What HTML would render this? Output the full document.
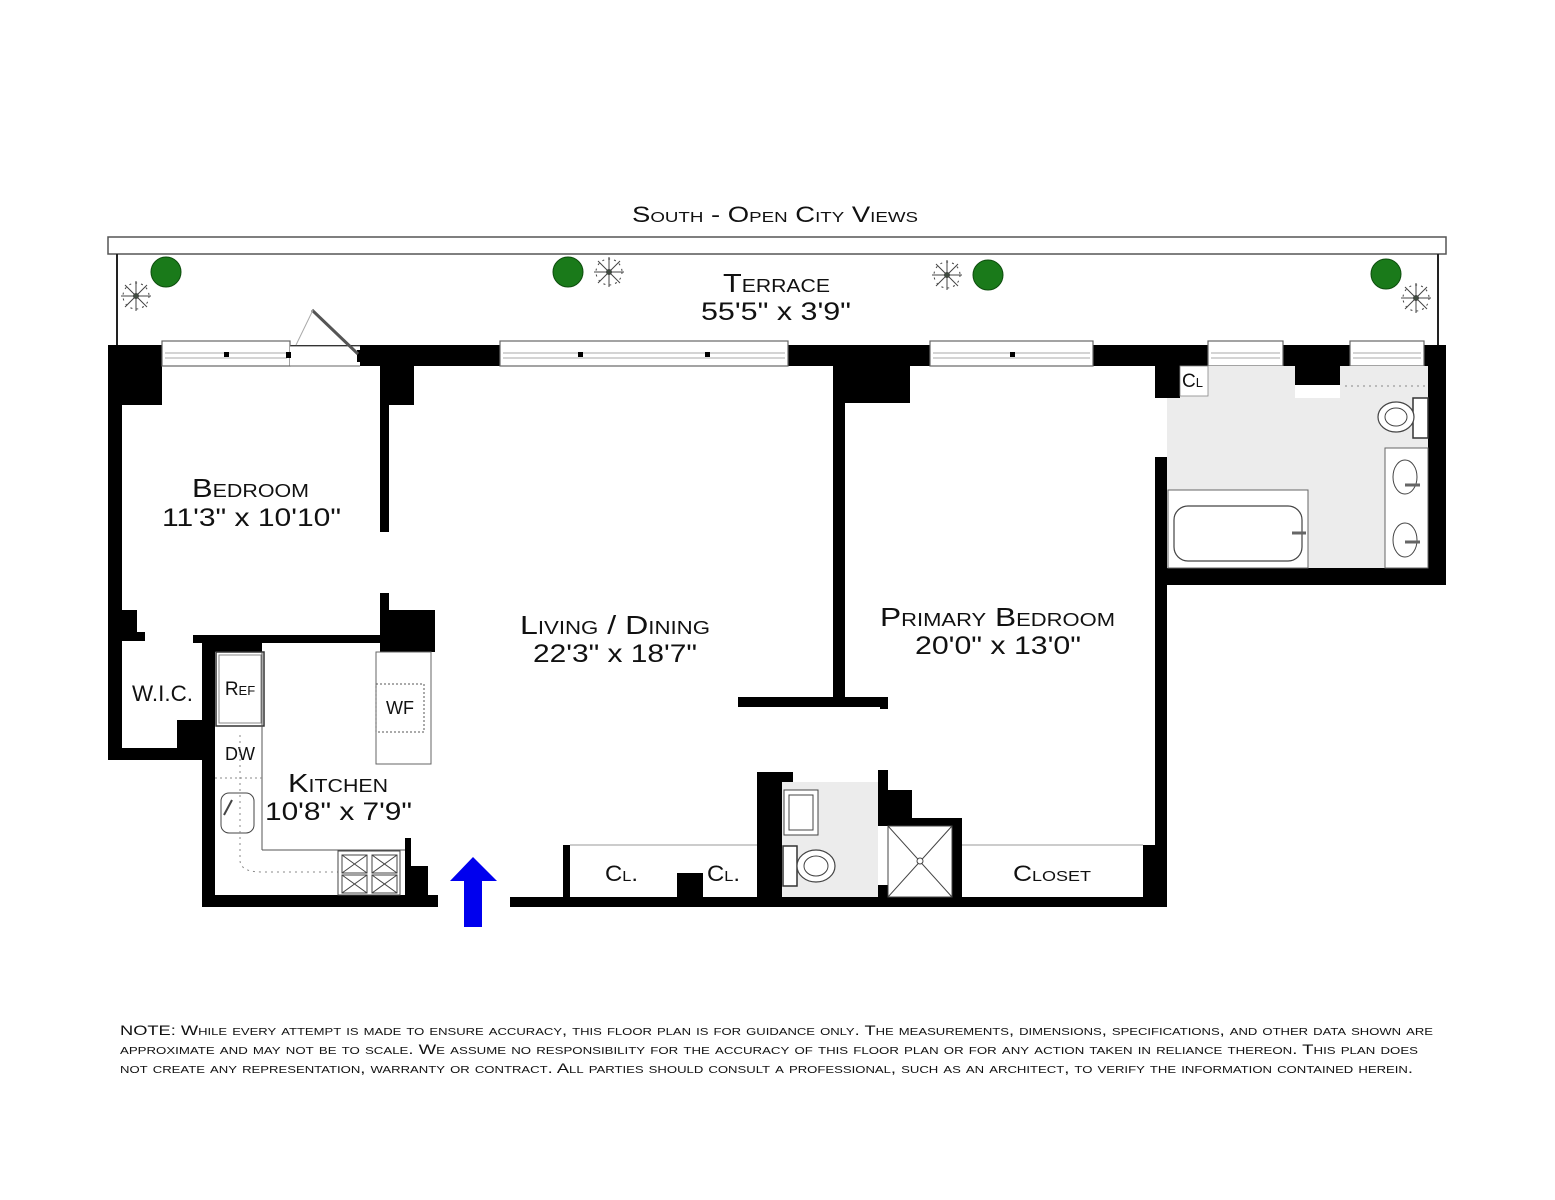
<!DOCTYPE html>
<html><head><meta charset="utf-8">
<style>
html,body{margin:0;padding:0;background:#fff;}
svg{display:block;}
text{font-family:"Liberation Sans",sans-serif;fill:#111;}
.sc{font-variant:small-caps;}
</style></head>
<body>
<svg width="1555" height="1200" viewBox="0 0 1555 1200" xmlns="http://www.w3.org/2000/svg">
<rect width="1555" height="1200" fill="#fff"/>

<text x="632" y="222" font-size="22" class="sc" textLength="286" lengthAdjust="spacingAndGlyphs">South  -  Open City Views</text>

<!-- terrace -->
<rect x="108" y="237" width="1338" height="17" fill="#fff" stroke="#555" stroke-width="1.5"/>
<line x1="117" y1="254" x2="117" y2="345" stroke="#222" stroke-width="2"/>
<line x1="1438" y1="254" x2="1438" y2="345" stroke="#222" stroke-width="2"/>
<text x="723" y="292" font-size="26" class="sc" textLength="107" lengthAdjust="spacingAndGlyphs">Terrace</text>
<text x="701" y="320" font-size="25" textLength="150" lengthAdjust="spacingAndGlyphs">55'5"  x  3'9"</text>

<!-- plants -->
<g fill="#1a7a1a" stroke="#0d4d0d" stroke-width="1">
<circle cx="166" cy="272" r="15"/><circle cx="568" cy="272" r="15"/>
<circle cx="988" cy="275" r="15"/><circle cx="1386" cy="274" r="15"/>
</g>
<g stroke="#444" stroke-width="1" fill="none">
<g transform="translate(136,296)"><circle r="2.5" fill="#1a7a1a"/><path d="M-15 0H15M0-15V15M-11-11L11 11M-11 11L11-11"/><circle r="13" stroke-dasharray="2 4"/></g>
<g transform="translate(609,272)"><circle r="2.5" fill="#1a7a1a"/><path d="M-15 0H15M0-15V15M-11-11L11 11M-11 11L11-11"/><circle r="13" stroke-dasharray="2 4"/></g>
<g transform="translate(947,275)"><circle r="2.5" fill="#1a7a1a"/><path d="M-15 0H15M0-15V15M-11-11L11 11M-11 11L11-11"/><circle r="13" stroke-dasharray="2 4"/></g>
<g transform="translate(1416,298)"><circle r="2.5" fill="#1a7a1a"/><path d="M-15 0H15M0-15V15M-11-11L11 11M-11 11L11-11"/><circle r="13" stroke-dasharray="2 4"/></g>
</g>

<g fill="#000">
<rect x="108" y="345" width="1338" height="21"/>
<rect x="108" y="345" width="14" height="415"/>
<rect x="108" y="345" width="54" height="60"/>
<rect x="383" y="345" width="31" height="60"/>
<rect x="380" y="366" width="9" height="166"/>
<rect x="380" y="593" width="9" height="50"/>
<rect x="380" y="610" width="55" height="42"/>
<rect x="108" y="610" width="29" height="30"/>
<rect x="108" y="632" width="37" height="9"/>
<rect x="193" y="635" width="242" height="8"/>
<rect x="108" y="748" width="107" height="12"/>
<rect x="177" y="720" width="38" height="40"/>
<rect x="202" y="635" width="13" height="272"/>
<rect x="202" y="643" width="60" height="9"/>
<rect x="202" y="895" width="236" height="12"/>
<rect x="405" y="838" width="6" height="60"/>
<rect x="405" y="866" width="23" height="32"/>
<rect x="510" y="897" width="657" height="10"/>
<rect x="833" y="366" width="12" height="334"/>
<rect x="833" y="366" width="77" height="37"/>
<rect x="738" y="697" width="150" height="10"/>
<rect x="880" y="697" width="8" height="12"/>
<rect x="1155" y="366" width="25" height="32"/>
<rect x="1155" y="457" width="12" height="450"/>
<rect x="1143" y="845" width="24" height="60"/>
<rect x="1167" y="568" width="279" height="17"/>
<rect x="1428" y="345" width="18" height="240"/>
<rect x="1295" y="366" width="45" height="19"/>
<rect x="1306" y="497" width="10" height="71"/>
<rect x="757" y="772" width="25" height="135"/>
<rect x="757" y="772" width="36" height="10"/>
<rect x="878" y="770" width="10" height="20"/>
<rect x="878" y="790" width="34" height="36"/>
<rect x="878" y="818" width="84" height="8"/>
<rect x="952" y="818" width="10" height="89"/>
<rect x="878" y="885" width="10" height="20"/>
<rect x="563" y="845" width="7" height="55"/>
<rect x="677" y="873" width="26" height="27"/>
</g>

<!-- windows -->
<g fill="#fff" stroke="#666" stroke-width="1.2">
<rect x="162" y="341" width="128" height="25"/>
<rect x="500" y="341" width="288" height="25"/>
<rect x="930" y="341" width="163" height="25"/>
<rect x="1208" y="341" width="75" height="25"/>
<rect x="1350" y="341" width="74" height="25"/>
</g>
<rect x="290" y="346" width="70" height="20" fill="#fff"/>
<line x1="290" y1="346" x2="360" y2="346" stroke="#666"/>
<line x1="290" y1="366" x2="360" y2="366" stroke="#666"/>
<g stroke="#aaa" stroke-width="1">
<line x1="165" y1="353" x2="287" y2="353"/><line x1="165" y1="358" x2="287" y2="358"/>
<line x1="503" y1="353" x2="785" y2="353"/><line x1="503" y1="358" x2="785" y2="358"/>
<line x1="933" y1="353" x2="1090" y2="353"/><line x1="933" y1="358" x2="1090" y2="358"/>
<line x1="1211" y1="353" x2="1280" y2="353"/><line x1="1211" y1="358" x2="1280" y2="358"/>
<line x1="1353" y1="353" x2="1421" y2="353"/><line x1="1353" y1="358" x2="1421" y2="358"/>
</g>
<g fill="#000"><rect x="224" y="352" width="5" height="5"/><rect x="286" y="352" width="5" height="6"/><rect x="578" y="352" width="5" height="5"/><rect x="705" y="352" width="5" height="5"/><rect x="1010" y="352" width="5" height="5"/><rect x="357" y="350" width="4" height="12"/></g>
<line x1="312" y1="310" x2="358" y2="354" stroke="#555" stroke-width="3"/>
<line x1="313" y1="310" x2="296" y2="345" stroke="#aaa" stroke-width="1"/>

<!-- bath fill -->
<rect x="1167" y="398" width="261" height="170" fill="#ececec"/>
<rect x="1180" y="366" width="115" height="32" fill="#ececec"/>
<rect x="1340" y="366" width="88" height="32" fill="#ececec"/>
<rect x="1180" y="366" width="28" height="30" fill="#fff" stroke="#888" stroke-width="0.8"/>
<text x="1182" y="387" font-size="19" class="sc">Cl</text>
<line x1="1345" y1="386" x2="1426" y2="386" stroke="#888" stroke-dasharray="2 4"/>
<rect x="1168" y="490" width="140" height="78" fill="#fff" stroke="#666"/>
<rect x="1174" y="506" width="128" height="55" rx="14" fill="#fff" stroke="#444" stroke-width="1.2"/>
<line x1="1292" y1="533" x2="1306" y2="533" stroke="#666" stroke-width="3"/>
<rect x="1413" y="398" width="15" height="40" fill="#fff" stroke="#333" stroke-width="1.5"/>
<ellipse cx="1396" cy="417" rx="18" ry="15" fill="#fff" stroke="#444" stroke-width="1.2"/>
<ellipse cx="1396" cy="417" rx="11" ry="9" fill="none" stroke="#444"/>
<rect x="1385" y="448" width="43" height="120" fill="#fff" stroke="#666"/>
<ellipse cx="1405" cy="477" rx="12" ry="17" fill="#fff" stroke="#444"/>
<ellipse cx="1405" cy="540" rx="12" ry="17" fill="#fff" stroke="#444"/>
<line x1="1405" y1="485" x2="1420" y2="485" stroke="#666" stroke-width="3"/>
<line x1="1405" y1="542" x2="1420" y2="542" stroke="#666" stroke-width="3"/>

<!-- powder room -->
<rect x="782" y="782" width="96" height="115" fill="#ececec"/>
<rect x="784" y="790" width="34" height="45" fill="#fff" stroke="#444"/>
<rect x="789" y="795" width="24" height="35" fill="none" stroke="#444"/>
<rect x="783" y="846" width="14" height="40" fill="#fff" stroke="#333" stroke-width="1.5"/>
<ellipse cx="816" cy="866" rx="19" ry="16" fill="#fff" stroke="#444" stroke-width="1.2"/>
<ellipse cx="816" cy="866" rx="12" ry="10" fill="none" stroke="#444"/>
<rect x="888" y="826" width="64" height="71" fill="#fff" stroke="#444"/>
<path d="M888 826L952 897M952 826L888 897" stroke="#444"/>
<circle cx="920" cy="861" r="3" fill="#fff" stroke="#444"/>

<!-- closets -->
<line x1="570" y1="845" x2="757" y2="845" stroke="#ccc" stroke-width="2"/>
<line x1="962" y1="845" x2="1143" y2="845" stroke="#ccc" stroke-width="2"/>
<text x="605" y="881" font-size="22" class="sc" textLength="33" lengthAdjust="spacingAndGlyphs">Cl.</text>
<text x="707" y="881" font-size="22" class="sc" textLength="33" lengthAdjust="spacingAndGlyphs">Cl.</text>
<text x="1013" y="881" font-size="22" class="sc" textLength="78" lengthAdjust="spacingAndGlyphs">Closet</text>

<!-- kitchen fixtures -->
<rect x="216" y="652" width="48" height="74" fill="#fff" stroke="#333" stroke-width="1.5"/>
<rect x="219" y="655" width="42" height="68" fill="none" stroke="#888"/>
<text x="240" y="695" text-anchor="middle" font-size="19" class="sc">Ref</text>
<rect x="376" y="652" width="55" height="112" fill="#fff" stroke="#666"/>
<rect x="376" y="684" width="48" height="48" fill="none" stroke="#555" stroke-dasharray="2 2"/>
<text x="400" y="714" text-anchor="middle" font-size="18">WF</text>
<line x1="262" y1="652" x2="262" y2="850" stroke="#555"/>
<line x1="262" y1="850" x2="405" y2="850" stroke="#555"/>
<line x1="215" y1="778" x2="262" y2="778" stroke="#888" stroke-dasharray="2 3"/>
<text x="240" y="760" text-anchor="middle" font-size="18">DW</text>
<rect x="221" y="793" width="33" height="40" rx="8" fill="#fff" stroke="#444"/>
<line x1="224" y1="815" x2="232" y2="800" stroke="#444" stroke-width="2"/>
<path d="M240 735V860Q240 872 262 872H340" fill="none" stroke="#888" stroke-dasharray="2 4"/>
<rect x="338" y="851" width="62" height="44" fill="#fff" stroke="#444"/>
<g stroke="#444" fill="none"><rect x="342" y="855" width="25" height="18"/><rect x="372" y="855" width="25" height="18"/><rect x="342" y="875" width="25" height="18"/><rect x="372" y="875" width="25" height="18"/>
<path d="M342 855L367 873M367 855L342 873M372 855L397 873M397 855L372 873M342 875L367 893M367 875L342 893M372 875L397 893M397 875L372 893"/></g>

<!-- labels -->
<text x="192" y="497" font-size="26" class="sc" textLength="117" lengthAdjust="spacingAndGlyphs">Bedroom</text>
<text x="162" y="526" font-size="25" textLength="179" lengthAdjust="spacingAndGlyphs">11'3"  x  10'10"</text>
<text x="520" y="634" font-size="26" class="sc" textLength="190" lengthAdjust="spacingAndGlyphs">Living / Dining</text>
<text x="533" y="662" font-size="25" textLength="164" lengthAdjust="spacingAndGlyphs">22'3"  x  18'7"</text>
<text x="880" y="626" font-size="26" class="sc" textLength="235" lengthAdjust="spacingAndGlyphs">Primary Bedroom</text>
<text x="915" y="654" font-size="25" textLength="166" lengthAdjust="spacingAndGlyphs">20'0"  x  13'0"</text>
<text x="132" y="701" font-size="22" textLength="61" lengthAdjust="spacingAndGlyphs">W.I.C.</text>
<text x="288" y="792" font-size="26" class="sc" textLength="100" lengthAdjust="spacingAndGlyphs">Kitchen</text>
<text x="265" y="820" font-size="25" textLength="147" lengthAdjust="spacingAndGlyphs">10'8"  x  7'9"</text>

<!-- entry arrow -->
<path d="M473 857L497 881H482V927H464V881H450Z" fill="#0000ee"/>

<!-- note -->
<g font-size="14" class="sc">
<text x="120" y="1035" textLength="1313" lengthAdjust="spacingAndGlyphs">NOTE: While every attempt is made to ensure accuracy, this floor plan is for guidance only. The measurements, dimensions, specifications, and other data shown are</text>
<text x="120" y="1054" textLength="1298" lengthAdjust="spacingAndGlyphs">approximate and may not be to scale. We assume no responsibility for the accuracy of this floor plan or for any action taken in reliance thereon. This plan does</text>
<text x="120" y="1073" textLength="1293" lengthAdjust="spacingAndGlyphs">not create any representation, warranty or contract. All parties should consult a professional, such as an architect, to verify the information contained herein.</text>
</g>
</svg>
</body></html>
